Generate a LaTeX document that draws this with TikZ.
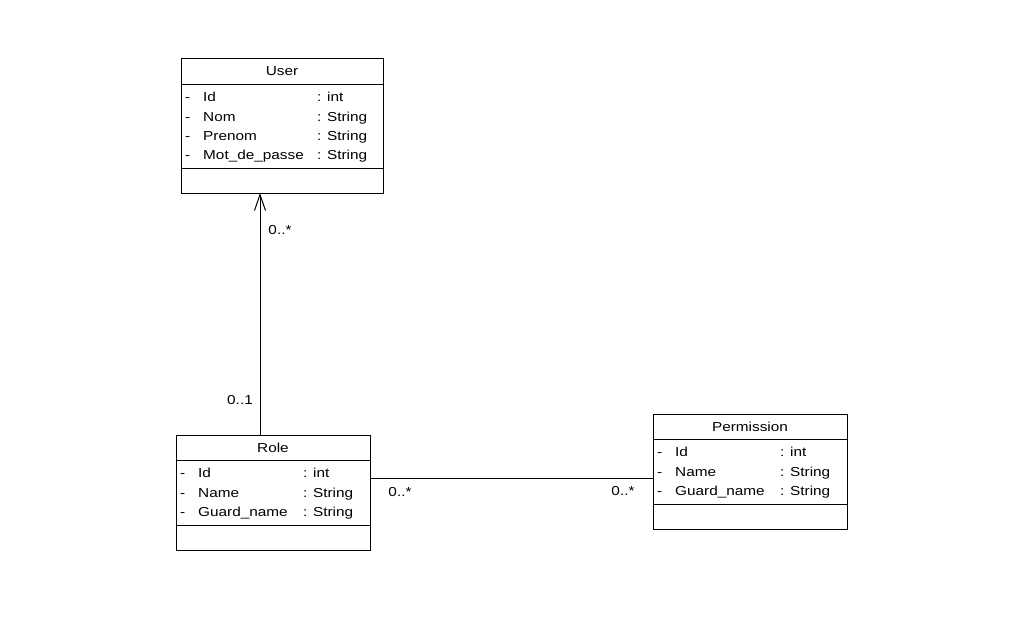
\documentclass[tikz,border=0pt]{standalone}
\usepackage{fontspec}
\setmainfont{Liberation Sans}[FakeStretch=1.18]
\usetikzlibrary{arrows.meta}
\tikzset{
  classbox/.style={draw, line width=1pt, anchor=north west, inner sep=0pt},
  ctitle/.style={inner sep=0pt, text height=9.5pt, text depth=3pt, font=\fontsize{13}{15}\selectfont},
  attr/.style={anchor=west, inner sep=0pt, text height=9.5pt, text depth=3pt, font=\fontsize{13}{15}\selectfont},
  mult/.style={inner sep=0pt, text height=9.5pt, text depth=3pt, font=\fontsize{13}{15}\selectfont},
  assoc/.style={line width=1pt},
  arrow/.style={assoc, -{Straight Barb[length=16pt, width=11pt]}},
}

\begin{document}
\begin{tikzpicture}[x=1pt, y=-1pt]
    \useasboundingbox (0, 0) rectangle (1018, 625);
    % User
    \node[classbox, minimum width=202pt, minimum height=135pt] (user) at (181, 58) {};
    \node[ctitle] (usert) at (282, 72) {User};
    \draw[assoc] (181, 84) -- (383, 84);
    \draw[assoc] (181, 168) -- (383, 168);
    \foreach \n/\a/\t [count=\i from 0] in {Id/Id/int, Nom/Nom/String, Prenom/Prenom/String, Mdp/Mot\_de\_passe/String} {
      \node[attr] (user-\n-v) at (185, 98.5 + 19.3*\i) {-};
      \node[attr] (user-\n) at (203, 98.5 + 19.3*\i) {\a};
      \node[attr] (user-\n-t) at (317, 98.5 + 19.3*\i) {: \t};
    }
    % Role
    \node[classbox, minimum width=194pt, minimum height=115pt] (role) at (176, 435) {};
    \node[ctitle] (rolet) at (273, 449) {Role};
    \draw[assoc] (176, 460) -- (370, 460);
    \draw[assoc] (176, 525) -- (370, 525);
    \foreach \n/\a/\t [count=\i from 0] in {Id/Id/int, Name/Name/String, Guard/Guard\_name/String} {
      \node[attr] (role-\n-v) at (180, 474.5 + 19.3*\i) {-};
      \node[attr] (role-\n) at (198, 474.5 + 19.3*\i) {\a};
      \node[attr] (role-\n-t) at (303, 474.5 + 19.3*\i) {: \t};
    }
    % Permission
    \node[classbox, minimum width=194pt, minimum height=115pt] (perm) at (653, 414) {};
    \node[ctitle] (permt) at (750, 428) {Permission};
    \draw[assoc] (653, 439) -- (847, 439);
    \draw[assoc] (653, 504) -- (847, 504);
    \foreach \n/\a/\t [count=\i from 0] in {Id/Id/int, Name/Name/String, Guard/Guard\_name/String} {
      \node[attr] (perm-\n-v) at (657, 453.5 + 19.3*\i) {-};
      \node[attr] (perm-\n) at (675, 453.5 + 19.3*\i) {\a};
      \node[attr] (perm-\n-t) at (780, 453.5 + 19.3*\i) {: \t};
    }
    % associations
    \coordinate (roletop) at (260, 435);
    \coordinate (userbot) at (260, 193);
    \draw[arrow] (roletop) to (userbot);
    \coordinate (roleright) at (370, 478);
    \coordinate (permleft) at (653, 478);
    \draw[assoc] (roleright) to (permleft);
    \node[mult] (m1) at (280, 231) {0..*};
    \node[mult] (m2) at (240, 401) {0..1};
    \node[mult] (m3) at (400, 493) {0..*};
    \node[mult] (m4) at (623, 492) {0..*};
  \end{tikzpicture}
\end{document}
